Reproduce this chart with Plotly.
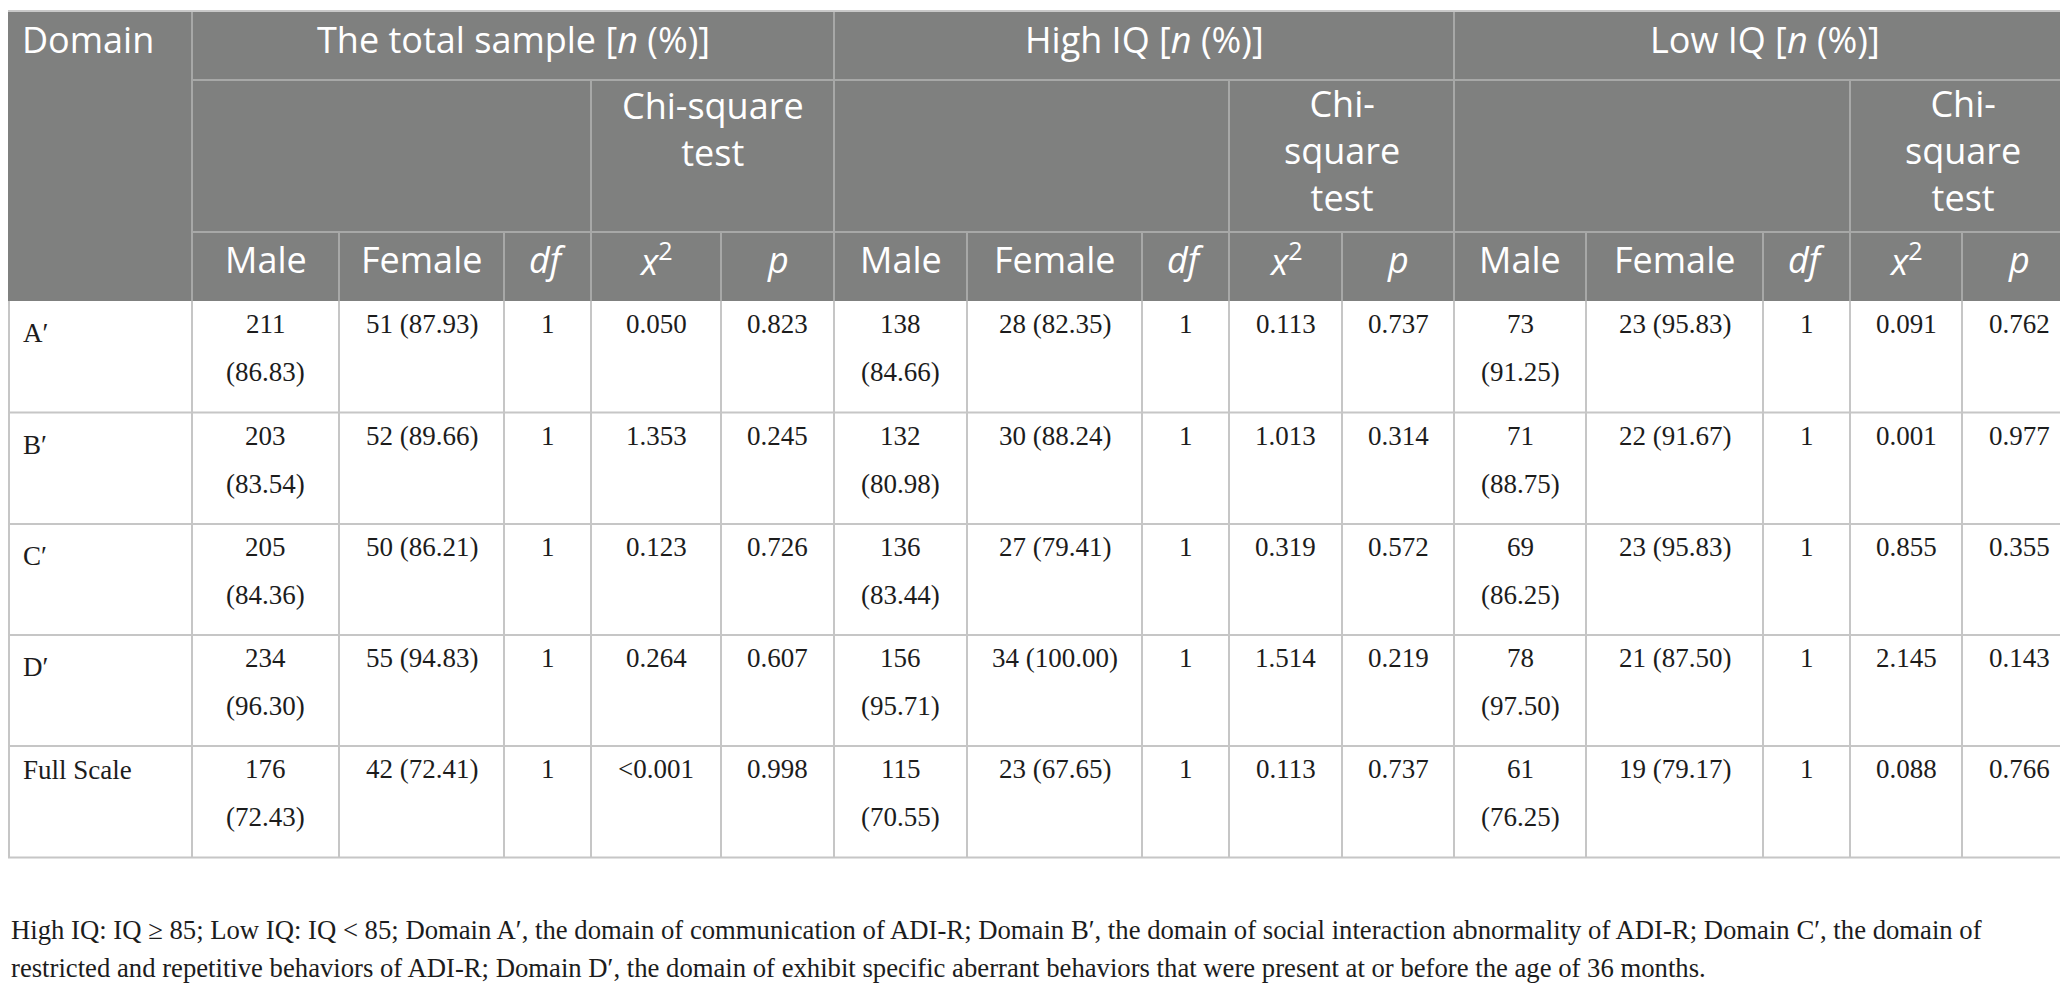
import plotly.graph_objects as go

# ---- data ----
domains = ["A′", "B′", "C′", "D′", "Full Scale"]

total_male_n = [211, 203, 205, 234, 176]
total_male_pct = ["86.83", "83.54", "84.36", "96.30", "72.43"]
total_female_n = [51, 52, 50, 55, 42]
total_female_pct = ["87.93", "89.66", "86.21", "94.83", "72.41"]
total_df = [1, 1, 1, 1, 1]
total_chi2 = ["0.050", "1.353", "0.123", "0.264", "<0.001"]
total_p = ["0.823", "0.245", "0.726", "0.607", "0.998"]

high_male_n = [138, 132, 136, 156, 115]
high_male_pct = ["84.66", "80.98", "83.44", "95.71", "70.55"]
high_female_n = [28, 30, 27, 34, 23]
high_female_pct = ["82.35", "88.24", "79.41", "100.00", "67.65"]
high_df = [1, 1, 1, 1, 1]
high_chi2 = ["0.113", "1.013", "0.319", "1.514", "0.113"]
high_p = ["0.737", "0.314", "0.572", "0.219", "0.737"]

low_male_n = [73, 71, 69, 78, 61]
low_male_pct = ["91.25", "88.75", "86.25", "97.50", "76.25"]
low_female_n = [23, 22, 23, 21, 19]
low_female_pct = ["95.83", "91.67", "95.83", "87.50", "79.17"]
low_df = [1, 1, 1, 1, 1]
low_chi2 = ["0.091", "0.001", "0.855", "2.145", "0.088"]
low_p = ["0.762", "0.977", "0.355", "0.143", "0.766"]

group_titles = ["The total sample [<i>n</i> (%)]", "High IQ [<i>n</i> (%)]", "Low IQ [<i>n</i> (%)]"]
chi_titles = ["Chi-square<br>test", "Chi-<br>square<br>test", "Chi-<br>square<br>test"]
sub_titles = ["Male", "Female", "<i>df</i>", "<i>x</i><sup>2</sup>", "<i>p</i>"]

footnote = [
    "High IQ: IQ ≥ 85; Low IQ: IQ &lt; 85; Domain A′, the domain of communication of ADI-R; "
    "Domain B′, the domain of social interaction abnormality of ADI-R; Domain C′, the domain of",
    "restricted and repetitive behaviors of ADI-R; Domain D′, the domain of exhibit specific "
    "aberrant behaviors that were present at or before the age of 36 months.",
]

groups = [
    (total_male_n, total_male_pct, total_female_n, total_female_pct, total_df, total_chi2, total_p),
    (high_male_n, high_male_pct, high_female_n, high_female_pct, high_df, high_chi2, high_p),
    (low_male_n, low_male_pct, low_female_n, low_female_pct, low_df, low_chi2, low_p),
]

# ---- layout geometry (pixels) ----
W, H = 2068, 992
edges = [0, 184, 331, 496, 583, 713, 826, 959, 1134, 1221, 1334, 1446, 1578, 1755, 1842, 1954, 2068]
head_y = [4, 72, 224, 293]
row_y = [293, 404.5, 516, 627, 738, 849.5]

HEAD_BG = "#7f807f"
HEAD_LINE = "#a7a8a7"
GRID = "#c6c6c6"
HFONT = "Open Sans"
BFONT = "Liberation Serif"
HFS = 36
BFS = 27
BODY_COLOR = "#1c1c1c"

shapes = []
annotations = []


def hline(y, x0, x1, color, width=2):
    shapes.append(dict(type="line", xref="x", yref="y", x0=x0, x1=x1, y0=y, y1=y,
                       line=dict(color=color, width=width)))


def vline(x, y0, y1, color, width=2):
    shapes.append(dict(type="line", xref="x", yref="y", x0=x, x1=x, y0=y0, y1=y1,
                       line=dict(color=color, width=width)))


def text(x, y, s, size, family, color, align="center"):
    # y is the middle of the annotation box
    annotations.append(dict(x=x, y=y, xref="x", yref="y", text=s,
                            showarrow=False, xanchor=align, yanchor="middle",
                            font=dict(family=family, size=size, color=color)))


def mid(i):
    return (edges[i] + edges[i + 1]) / 2


# header background
shapes.append(dict(type="rect", xref="x", yref="y", x0=0, x1=W, y0=head_y[0], y1=head_y[3],
                   fillcolor=HEAD_BG, line=dict(width=0), layer="below"))
hline(head_y[0] - 1, 0, W, "#c8c8c8")

# header grid lines
hline(head_y[1], edges[1], W, HEAD_LINE)
hline(head_y[2], edges[1], W, HEAD_LINE)
vline(edges[1], head_y[0], head_y[3], HEAD_LINE)
for g in range(3):
    c0 = 1 + 5 * g
    if g > 0:
        vline(edges[c0], head_y[0], head_y[3], HEAD_LINE)
    vline(edges[c0 + 3], head_y[1], head_y[3], HEAD_LINE)
    for k in (1, 2, 4):
        vline(edges[c0 + k], head_y[2], head_y[3], HEAD_LINE)

# header text
text(12, 31, "Domain", HFS, HFONT, "white", align="left")
for g in range(3):
    c0 = 1 + 5 * g
    text((edges[c0] + edges[c0 + 5]) / 2, 31, group_titles[g], HFS, HFONT, "white")
    cx = (edges[c0 + 3] + edges[c0 + 5]) / 2
    n_lines = chi_titles[g].count("<br>") + 1
    text(cx, 121 if n_lines == 2 else 142, chi_titles[g], HFS, HFONT, "white")
    for k, s in enumerate(sub_titles):
        text(mid(c0 + k), 251, s, HFS, HFONT, "white")

# body grid lines
for y in row_y[1:]:
    hline(y, 0, W, GRID)
for i, x in enumerate(edges):
    xx = 1 if i == 0 else (W - 1 if i == len(edges) - 1 else x)
    vline(xx, row_y[0], row_y[-1], GRID)

# body text
for r, dom in enumerate(domains):
    top = row_y[r]
    # the primed labels sit a little lower in the source
    text(13, top + (32 if "′" in dom else 24), dom, BFS, BFONT, BODY_COLOR, align="left")
    for g, (mn, mp, fn, fp, df, chi, p) in enumerate(groups):
        c0 = 1 + 5 * g
        text(mid(c0), top + 23, str(mn[r]), BFS, BFONT, BODY_COLOR)
        text(mid(c0), top + 71, "(" + mp[r] + ")", BFS, BFONT, BODY_COLOR)
        text(mid(c0 + 1), top + 23, "%d (%s)" % (fn[r], fp[r]), BFS, BFONT, BODY_COLOR)
        text(mid(c0 + 2), top + 23, str(df[r]), BFS, BFONT, BODY_COLOR)
        text(mid(c0 + 3), top + 23, chi[r].replace("<", "&lt;"), BFS, BFONT, BODY_COLOR)
        text(mid(c0 + 4), top + 23, p[r], BFS, BFONT, BODY_COLOR)

# footnote
for j, line in enumerate(footnote):
    text(1, 922 + 38 * j, line, 26.7, BFONT, BODY_COLOR, align="left")

fig = go.Figure()
fig.update_layout(
    width=W, height=H,
    margin=dict(l=0, r=0, t=0, b=0),
    paper_bgcolor="white", plot_bgcolor="white",
    xaxis=dict(range=[0, W], visible=False, fixedrange=True),
    yaxis=dict(range=[H, 0], visible=False, fixedrange=True),
    shapes=shapes, annotations=annotations,
    showlegend=False,
)
fig.write_html("out.html")
